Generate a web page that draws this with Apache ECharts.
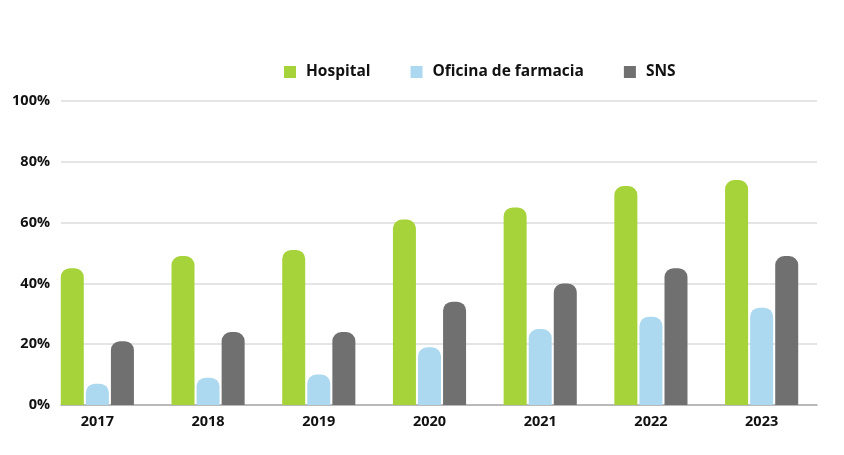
<!DOCTYPE html>
<html><head><meta charset="utf-8">
<script src="https://cdn.jsdelivr.net/npm/echarts@6/dist/echarts.min.js"></script>
<style>html,body{margin:0;padding:0;background:#fff}#c{width:844px;height:455px}</style>
</head><body><div id="c"></div>
<script>
const categories = ['2017','2018','2019','2020','2021','2022','2023'];
const hospital = [45, 49, 51, 61, 65, 72, 74];
const oficina = [7, 9, 10, 19, 25, 29, 32];
const sns = [21, 24, 24, 34, 40, 45, 49];
const yTicks = [0, 20, 40, 60, 80, 100];

const font = '"Open Sans", Inter, "Noto Sans", sans-serif';
const chart = echarts.init(document.getElementById('c'));
const radius = [9, 9, 0, 0];
chart.setOption({
  animation: false,
  legend: {
    left: 279, top: 59,
    itemWidth: 12, itemHeight: 12, itemGap: 40,
    icon: 'rect',
    textStyle: { fontFamily: font, fontWeight: 700, fontSize: 15.5, color: '#111', padding: [0, 0, 0, 5] },
    data: ['Hospital', 'Oficina de farmacia', 'SNS']
  },
  grid: [
    { left: 42, right: 27, top: 101, bottom: 50 },
    { left: 61, right: 27, top: 101, bottom: 50 }
  ],
  xAxis: [
    { type: 'category', gridIndex: 0, data: categories,
      axisLine: { show: false }, axisTick: { show: false },
      axisLabel: { fontFamily: font, fontWeight: 700, fontSize: 14.5, color: '#111', margin: 9 } },
    { type: 'value', gridIndex: 1, min: 0, max: 1, show: true,
      axisLine: { show: true, onZero: false, lineStyle: { color: '#aaaaaa', width: 1.5 } },
      axisTick: { show: false }, axisLabel: { show: false }, splitLine: { show: false } }
  ],
  yAxis: [
    { type: 'value', gridIndex: 0, min: 0, max: 100, interval: 20, show: false },
    { type: 'value', gridIndex: 1, min: yTicks[0], max: yTicks[yTicks.length - 1], interval: 20,
      axisLine: { show: false }, axisTick: { show: false },
      splitLine: { lineStyle: { color: '#dddddd', width: 1.5 } },
      axisLabel: { formatter: v => v + '%', fontFamily: font, fontWeight: 700, fontSize: 14.5, color: '#111', margin: 11 } }
  ],
  series: [
    { name: 'Hospital', type: 'bar', xAxisIndex: 0, yAxisIndex: 0, data: hospital,
      barWidth: 23, barGap: '9%', z: 5, itemStyle: { color: '#a6d33a', borderRadius: radius } },
    { name: 'Oficina de farmacia', type: 'bar', xAxisIndex: 0, yAxisIndex: 0, data: oficina,
      barWidth: 23, barGap: '9%', z: 5, itemStyle: { color: '#acd9ef', borderRadius: radius } },
    { name: 'SNS', type: 'bar', xAxisIndex: 0, yAxisIndex: 0, data: sns,
      barWidth: 23, barGap: '9%', z: 5, itemStyle: { color: '#707070', borderRadius: radius } }
  ]
});
</script></body></html>
